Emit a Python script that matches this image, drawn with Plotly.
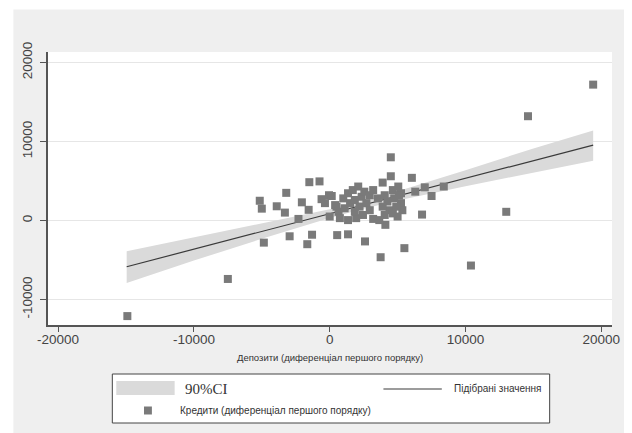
import plotly.graph_objects as go

# Scatter: Кредити vs Депозити (first differences)
dep = [-14900, -7500, 10400, 13000, 14600, 19400,
       -5150, -5000, -4850, -3900, -3300, -3200, -2950, -2300, -2050, -1650,
       -1550, -1500, -1300, -750, -600, -350, -50, 0, 500, 550, 1350, 1350,
       1950, 2600, 3200, 3750, 3900, 4100, 4500, 4500, 5050, 5500, 6050, 6300,
       6800, 7000, 7500, 8400, 5250, 5250, 5350,
       400, 650, 1000, 1100, 1350, 1500, 1700, 1850, 2100, 2200, 2350, 2550,
       2700, 2950, 3200, 3550, 4050, 4250, 4400, 4650, 4750, 4900, 5000, 5100,
       3900, 4050, 3650, 2950, 2450, 1850, 4650, 150, 750]
cred = [-12100, -7400, -5700, 1100, 13200, 17200,
        2500, 1500, -2800, 1800, 1000, 3500, -2000, 200, 2300, -3000,
        1350, 4850, -1800, 4950, 2700, 2200, 3200, 500, 1750, -1850, -1750, 50,
        300, -2650, 200, -4650, 4800, -550, 8000, 5600, 4300, -3500, 5400, 3650,
        750, 4200, 3100, 4300, 3450, 2200, 1300,
        1950, 1100, 2800, 1550, 3450, 2200, 3850, 2600, 4300, 1750, 3000, 3650,
        2200, 3200, 3850, 2800, 3200, 2400, 1300, 3850, 2800, 1750, 500, 3200,
        1750, 700, 50, 1300, 700, 1100, 900, 3100, 300]

# Fitted values (line) and 90% CI band
fit_x = [-14950, 19400]
fit_y = [-5850, 9550]
ci_x = [-14950, -10000, -5000, 0, 2200, 5000, 10000, 15000, 19400]
ci_upper = [-3900, -2150, -420, 1430, 2360, 3700, 6360, 9120, 11400]
ci_lower = [-7900, -5070, -2320, 310, 1360, 2520, 4340, 6070, 7550]

x_ticks = [-20000, -10000, 0, 10000, 20000]
x_ticktext = ["-20000", "-10000", "0", "10000", "20000"]
y_ticks = [-10000, 0, 10000, 20000]
y_ticktext = ["-10000", "0", "10000", "20000"]

x_title = "Депозити (диференціал першого порядку)"
leg_ci = "90%CI"
leg_fit = "Підібрані значення"
leg_sc = "Кредити (диференціал першого порядку)"

OFF = 8  # page body margin
W, H = 624, 425
L, R, T, B = 37, 17, 44, 108
PW, PH = W - L - R, H - T - B

def px(xp):
    # page pixel x -> paper coordinate
    return (xp - OFF - L) / PW

def py(yp):
    # page pixel y -> paper coordinate
    return (H - B - (yp - OFF)) / PH

fig = go.Figure()
fig.add_trace(go.Scatter(x=ci_x, y=ci_lower, mode="lines", line=dict(width=0),
                         hoverinfo="skip", showlegend=False))
fig.add_trace(go.Scatter(x=ci_x, y=ci_upper, mode="lines", line=dict(width=0),
                         fill="tonexty", fillcolor="#dadada", name=leg_ci, showlegend=False))
fig.add_trace(go.Scatter(x=fit_x, y=fit_y, mode="lines", line=dict(color="#3a3a3a", width=1.2),
                         name=leg_fit, showlegend=False))
fig.add_trace(go.Scatter(x=dep, y=cred, mode="markers",
                         marker=dict(symbol="square", size=8, color="#7a7a7a", line=dict(width=0)),
                         name=leg_sc, showlegend=False))

axis_font = dict(family="Liberation Sans, Arial, sans-serif", size=13.5, color="#444")
fig.update_xaxes(range=[-20743, 20787], tickvals=x_ticks, ticktext=x_ticktext,
                 ticks="outside", ticklen=5, ticklabelstandoff=-4,
                 tickcolor="#555", showline=True, linecolor="#555", linewidth=1.5,
                 showgrid=False, zeroline=False, tickfont=axis_font)
fig.update_yaxes(range=[-13228, 21329], tickvals=y_ticks, ticktext=y_ticktext,
                 ticks="outside", ticklen=6, ticklabelstandoff=3,
                 tickcolor="#555", showline=True, linecolor="#555", linewidth=1.5,
                 showgrid=True, gridcolor="#e6e6e6", gridwidth=1, zeroline=False,
                 tickangle=-90, tickfont=axis_font)

shapes = [
    dict(type="rect", xref="paper", yref="paper", x0=-0.2, x1=1.2, y0=py(9.5), y1=1.4,
         fillcolor="white", line=dict(width=0), layer="below"),
    dict(type="rect", xref="paper", yref="paper", x0=-0.2, x1=px(10), y0=-0.6, y1=1.4,
         fillcolor="white", line=dict(width=0), layer="below"),
    dict(type="rect", xref="paper", yref="paper", x0=px(110), x1=px(552), y0=py(423), y1=py(374),
         fillcolor="white", line=dict(color="#444", width=1)),
    dict(type="rect", xref="paper", yref="paper", x0=px(114), x1=px(173), y0=py(395), y1=py(381),
         fillcolor="#dadada", line=dict(width=0)),
    dict(type="line", xref="paper", yref="paper", x0=px(384), x1=px(443), y0=py(389), y1=py(389),
         line=dict(color="#3a3a3a", width=1.2)),
    dict(type="rect", xref="paper", yref="paper", x0=px(142), x1=px(150), y0=py(414.5), y1=py(406.5),
         fillcolor="#7a7a7a", line=dict(width=0)),
]

small = dict(family="Liberation Sans, Arial, sans-serif", size=9.5, color="#333")
leg_font = dict(family="Liberation Sans, Arial, sans-serif", size=10, color="#333")
annotations = [
    dict(text=x_title, xref="paper", yref="paper", x=px(330), y=py(357), showarrow=False,
         xanchor="center", yanchor="middle", font=small),
    dict(text=leg_ci, xref="paper", yref="paper", x=px(181), y=py(389), showarrow=False,
         xanchor="left", yanchor="middle",
         font=dict(family="Liberation Serif, Times New Roman, serif", size=15, color="#333")),
    dict(text=leg_fit, xref="paper", yref="paper", x=px(453), y=py(388), showarrow=False,
         xanchor="left", yanchor="middle", font=leg_font),
    dict(text=leg_sc, xref="paper", yref="paper", x=px(176), y=py(410.5), showarrow=False,
         xanchor="left", yanchor="middle", font=leg_font),
]

fig.update_layout(width=W, height=H, margin=dict(l=L, r=R, t=T, b=B),
                  paper_bgcolor="#efefef", plot_bgcolor="white", showlegend=False,
                  shapes=shapes, annotations=annotations)

fig.write_html("out.html")
